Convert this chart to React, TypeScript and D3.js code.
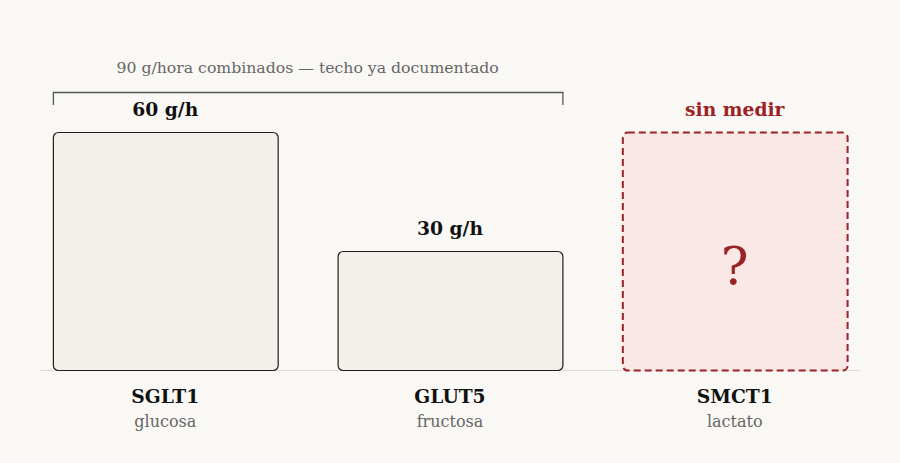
import React, { useEffect } from "react";
import * as d3 from "d3";

const categories = ["SGLT1", "GLUT5", "SMCT1"];
const substrates = ["glucosa", "fructosa", "lactato"];
const values: (number | null)[] = [60, 30, null];
const valueLabels = ["60 g/h", "30 g/h", "sin medir"];
const bracketLabel = "90 g/hora combinados — techo ya documentado";
const unknownHeightValue = 60;

const W = 900;
const H = 463;
const FONT = "'DejaVu Serif', serif";
const RED = "#9b2226";

export default function App() {
  useEffect(() => {
    document.body.style.margin = "0";
    document.body.style.background = "#faf8f4";
  }, []);

  const x = d3.scaleBand<string>().domain(categories).range([23, 877]).paddingInner(0.2105).paddingOuter(0.105);
  const y = d3.scaleLinear().domain([0, 60]).range([370, 132]);
  const bw = x.bandwidth();

  const bx0 = x(categories[0])!;
  const bx1 = x(categories[1])! + bw;

  return (
    <svg width={W} height={H} style={{ display: "block", background: "#faf8f4" }} fontFamily={FONT}>
      <line x1={40} x2={860} y1={370.5} y2={370.5} stroke="#dedbd5" strokeWidth={1} />
      {categories.map((c, i) => {
        const v = values[i];
        const bxx = x(c)!;
        const cx = bxx + bw / 2;
        const known = v !== null;
        const top = y(known ? (v as number) : unknownHeightValue);
        return (
          <g key={c}>
            <rect
              x={bxx + 0.5}
              y={top + 0.5}
              width={bw}
              height={y(0) - top}
              rx={5}
              fill={known ? "#f3f0ea" : "#f9e8e6"}
              stroke={known ? "#1e1e1e" : RED}
              strokeWidth={known ? 1.2 : 2}
              strokeDasharray={known ? undefined : "7,4"}
            />
            <text
              x={cx}
              y={top - 16}
              textAnchor="middle"
              fontSize={18.7}
              fontWeight="bold"
              fill={known ? "#111" : RED}
            >
              {valueLabels[i]}
            </text>
            {!known && (
              <text x={cx} y={284} textAnchor="middle" fontSize={52} fill={RED}>
                ?
              </text>
            )}
            <text x={cx} y={403} textAnchor="middle" fontSize={18.7} fontWeight="bold" fill="#111">
              {c}
            </text>
            <text x={cx} y={427} textAnchor="middle" fontSize={16} fill="#666">
              {substrates[i]}
            </text>
          </g>
        );
      })}
      <path
        d={`M${bx0 + 0.5},105 V92.5 H${bx1 + 0.5} V105`}
        fill="none"
        stroke="#555"
        strokeWidth={1.3}
      />
      <text x={(bx0 + bx1) / 2} y={73} textAnchor="middle" fontSize={15.7} fill="#666">
        {bracketLabel}
      </text>
    </svg>
  );
}
